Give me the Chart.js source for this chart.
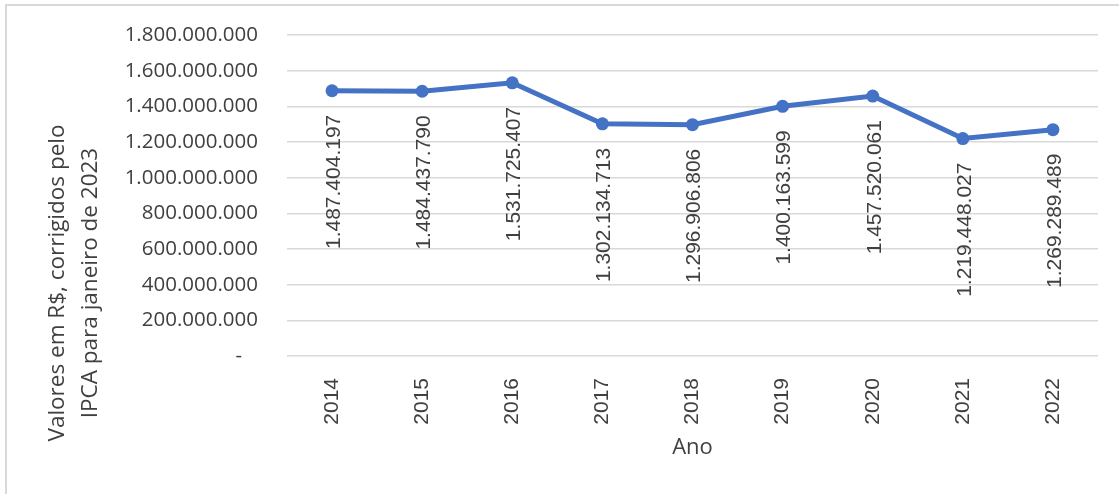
<!DOCTYPE html>
<html>
<head>
<meta charset="utf-8">
<script src="https://cdn.jsdelivr.net/npm/chart.js@4.4.1/dist/chart.umd.min.js"></script>
<style>
  html, body { margin: 0; padding: 0; background: #fff; overflow: hidden; }
  #frame {
    position: absolute; left: 5px; top: 4px; width: 1300px; height: 700px;
    border-left: 2px solid #d9d9d9; border-top: 2px solid #d9d9d9;
  }
  #wrap { position: absolute; left: 0; top: 0; width: 1119px; height: 494px; }
</style>
</head>
<body>
<div id="frame"></div>
<div id="wrap"><canvas id="chart" width="1119" height="494"></canvas></div>
<script>
'use strict';

const years = ['2014', '2015', '2016', '2017', '2018', '2019', '2020', '2021', '2022'];
const values = [1487404197, 1484437790, 1531725407, 1302134713, 1296906806, 1400163599, 1457520061, 1219448027, 1269289489];
const yTitle = ['Valores em R$, corrigidos pelo', 'IPCA para janeiro de 2023'];
const xTitle = 'Ano';

const textColor = '#404040';
const lineColor = '#4472C4';

const formatNum = (v) => {
  if (v === 0) return '-   ';
  return String(Math.round(v)).replace(/\B(?=(\d{3})+(?!\d))/g, '.');
};

// value labels, rotated, hanging under each point
const valueLabels = {
  id: 'valueLabels',
  afterDatasetsDraw(chart) {
    const ctx = chart.ctx;
    const meta = chart.getDatasetMeta(0);
    ctx.save();
    ctx.font = '21px "Liberation Sans", Arial, sans-serif';
    ctx.fillStyle = textColor;
    ctx.textAlign = 'right';
    ctx.textBaseline = 'middle';
    meta.data.forEach((pt, i) => {
      ctx.save();
      ctx.translate(pt.x + 2, pt.y + 24);
      ctx.rotate(-Math.PI / 2);
      ctx.fillText(formatNum(values[i]), 0, 0);
      ctx.restore();
    });
    ctx.restore();
  },
};

// y axis title, centred lower than the plot like the original
const yAxisTitle = {
  id: 'yAxisTitle',
  afterDraw(chart) {
    const ctx = chart.ctx;
    ctx.save();
    ctx.font = '22.5px "Open Sans", sans-serif';
    ctx.fillStyle = textColor;
    ctx.textAlign = 'center';
    ctx.textBaseline = 'middle';
    yTitle.forEach((line, i) => {
      ctx.save();
      ctx.translate(58 + i * 33, 283);
      ctx.rotate(-Math.PI / 2);
      ctx.fillText(line, 0, 0);
      ctx.restore();
    });
    ctx.restore();
  },
};

new Chart(document.getElementById('chart').getContext('2d'), {
  type: 'line',
  data: {
    labels: years,
    datasets: [{
      data: values,
      borderColor: lineColor,
      backgroundColor: lineColor,
      borderWidth: 5,
      pointRadius: 6.5,
      pointBackgroundColor: lineColor,
      pointBorderWidth: 0,
      tension: 0,
    }],
  },
  options: {
    responsive: false,
    animation: false,
    layout: { padding: { left: 0, right: 21, top: 35, bottom: 0 } },
    plugins: { legend: { display: false }, tooltip: { enabled: false } },
    scales: {
      x: {
        offset: true,
        grid: { display: false },
        border: { display: false },
        ticks: {
          color: textColor,
          font: { family: '"Liberation Sans", Arial, sans-serif', size: 21 },
          minRotation: 90,
          maxRotation: 90,
          padding: 14,
        },
        title: {
          display: true,
          text: xTitle,
          color: textColor,
          font: { family: '"Open Sans", sans-serif', size: 22 },
          padding: { top: 0, bottom: 33 },
        },
        afterFit: (scale) => { scale.height = 138; },
      },
      y: {
        min: 0,
        max: 1800000000,
        grid: { color: '#d9d9d9', lineWidth: 1.5, drawTicks: false },
        border: { display: false },
        ticks: {
          stepSize: 200000000,
          color: textColor,
          font: { family: '"Open Sans", sans-serif', size: 20.5 },
          padding: 29,
          callback: (v) => formatNum(v),
        },
        afterFit: (scale) => {
          scale.width = 287;
          // tick padding otherwise gets added to the top/bottom gutter
          scale.paddingTop = 0;
          scale.paddingBottom = 0;
        },
      },
    },
  },
  plugins: [valueLabels, yAxisTitle],
});
</script>
</body>
</html>
